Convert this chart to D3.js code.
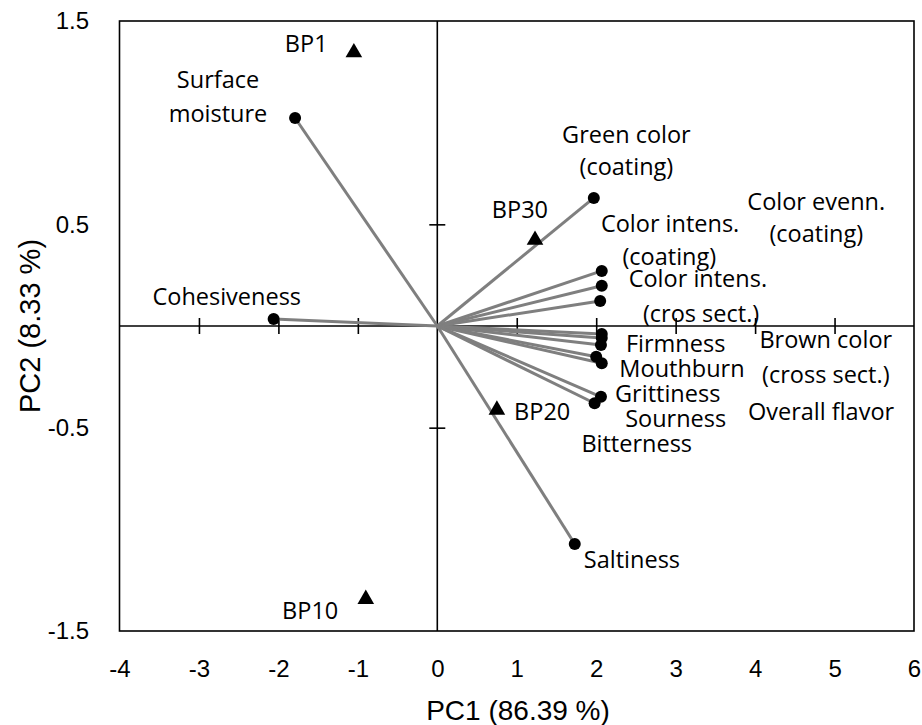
<!DOCTYPE html>
<html>
<head>
<meta charset="utf-8">
<script src="https://cdn.jsdelivr.net/npm/d3@7"></script>
<style>
  html, body { margin: 0; padding: 0; background: #fff; }
  svg { display: block; }
</style>
</head>
<body>
<svg id="chart" width="922" height="725"></svg>
<script>
// ---- data ----
const variableNames = ["Surface moisture", "Cohesiveness", "Green color (coating)", "Color intens. (coating)",
  "Color evenn. (coating)", "Color intens. (cros sect.)", "Brown color (cross sect.)", "Firmness",
  "Overall flavor", "Mouthburn", "Sourness", "Grittiness", "Bitterness", "Saltiness"];
const variablePC1 = [-1.79, -2.06, 1.97, 2.07, 2.07, 2.05, 2.07, 2.07, 2.06, 2.00, 2.07, 2.06, 1.98, 1.73];
const variablePC2 = [1.023, 0.034, 0.630, 0.271, 0.198, 0.123, -0.039, -0.059, -0.093, -0.151, -0.183, -0.348, -0.380, -1.072];

const sampleNames = ["BP1", "BP30", "BP20", "BP10"];
const samplePC1 = [-1.05, 1.23, 0.75, -0.90];
const samplePC2 = [1.345, 0.423, -0.413, -1.343];

const xTickValues = [-4, -3, -2, -1, 0, 1, 2, 3, 4, 5, 6];
const yTickValues = [1.5, 0.5, -0.5, -1.5];
const xTitle = "PC1 (86.39 %)";
const yTitle = "PC2 (8.33 %)";

// ---- label layout (data units, text centre / baseline) ----
const labelText = ["BP1", "Surface", "moisture", "BP10", "BP30", "BP20", "Green color", "(coating)",
  "Color evenn.", "(coating)", "Color intens.", "(coating)", "Color intens.", "(cros sect.)",
  "Firmness", "Brown color", "(cross sect.)", "Mouthburn", "Grittiness", "Sourness",
  "Overall flavor", "Bitterness", "Saltiness", "Cohesiveness"];
const labelX = [-1.65, -2.76, -2.76, -1.60, 1.04, 1.32, 2.38, 2.38, 4.77, 4.77, 2.93, 2.92, 3.28, 3.32,
  3.00, 4.89, 4.89, 3.08, 2.90, 3.00, 4.83, 2.51, 2.45, -2.65];
const labelY = [1.348, 1.171, 1.003, -1.441, 0.531, -0.462, 0.900, 0.743, 0.571, 0.413, 0.462, 0.300, 0.192, 0.020,
  -0.128, -0.108, -0.280, -0.251, -0.374, -0.497, -0.462, -0.620, -1.190, 0.103];

// ---- layout ----
const L = 119.5, R = 914, T = 21, B = 631;
const svg = d3.select("#chart");
const x = d3.scaleLinear().domain([-4, 6]).range([L, R]);
const y = d3.scaleLinear().domain([-1.5, 1.5]).range([B, T]);
const labelFont = "'Open Sans', sans-serif";
const axisFont = "'Liberation Sans', Arial, sans-serif";

// frame
svg.append("rect").attr("x", L).attr("y", T).attr("width", R - L).attr("height", B - T)
  .attr("fill", "none").attr("stroke", "#000").attr("stroke-width", 1.6);

// zero axis lines
svg.append("line").attr("x1", L).attr("x2", R).attr("y1", y(0)).attr("y2", y(0))
  .attr("stroke", "#000").attr("stroke-width", 1.6);
svg.append("line").attr("x1", x(0)).attr("x2", x(0)).attr("y1", T).attr("y2", B)
  .attr("stroke", "#000").attr("stroke-width", 1.6);

// crossing tick marks on the zero lines
const xTickAxis = svg.append("g").attr("transform", `translate(0,${y(0) - 8})`)
  .call(d3.axisBottom(x).tickValues([-3, -2, -1, 1, 2, 3, 4, 5]).tickSize(16).tickFormat(""));
xTickAxis.select(".domain").remove();
xTickAxis.selectAll(".tick line").attr("stroke", "#000").attr("stroke-width", 1.6);

const yTickAxis = svg.append("g").attr("transform", `translate(${x(0) - 8},0)`)
  .call(d3.axisRight(y).tickValues([0.5, -0.5]).tickSize(16).tickFormat(""));
yTickAxis.select(".domain").remove();
yTickAxis.selectAll(".tick line").attr("stroke", "#000").attr("stroke-width", 1.6);

// tick labels
const xLab = svg.append("g").attr("transform", `translate(0,${B})`)
  .call(d3.axisBottom(x).tickValues(xTickValues).tickSize(0).tickPadding(0).tickFormat(d => d3.format("")(d).replace("−", "-")));
xLab.select(".domain").remove();
xLab.selectAll("text").attr("font-family", axisFont).attr("font-size", 24).attr("fill", "#000")
  .attr("dy", null).attr("y", 46);

const yLab = svg.append("g").attr("transform", `translate(89,0)`)
  .call(d3.axisLeft(y).tickValues(yTickValues).tickSize(0).tickPadding(0).tickFormat(d => d3.format(".1f")(d).replace("−", "-")));
yLab.select(".domain").remove();
yLab.selectAll("text").attr("font-family", axisFont).attr("font-size", 24).attr("fill", "#000");

// axis titles
svg.append("text").attr("x", 518).attr("y", 720).attr("text-anchor", "middle")
  .attr("font-family", axisFont).attr("font-size", 28).attr("fill", "#000").text(xTitle);
svg.append("text").attr("transform", `translate(40,${(T + B) / 2}) rotate(-90)`).attr("text-anchor", "middle")
  .attr("font-family", axisFont).attr("font-size", 29).attr("fill", "#000").text(yTitle);

// vectors
const variables = variableNames.map((n, i) => ({ name: n, pc1: variablePC1[i], pc2: variablePC2[i] }));
svg.append("g").selectAll("line").data(variables).join("line")
  .attr("x1", x(0)).attr("y1", y(0))
  .attr("x2", d => x(d.pc1)).attr("y2", d => y(d.pc2))
  .attr("stroke", "#7f7f7f").attr("stroke-width", 3);
svg.append("g").selectAll("circle").data(variables).join("circle")
  .attr("cx", d => x(d.pc1)).attr("cy", d => y(d.pc2)).attr("r", 6).attr("fill", "#000");

// samples
const samples = sampleNames.map((n, i) => ({ name: n, pc1: samplePC1[i], pc2: samplePC2[i] }));
svg.append("g").selectAll("path").data(samples).join("path")
  .attr("d", d3.symbol().type(d3.symbolTriangle).size(120))
  .attr("transform", d => `translate(${x(d.pc1)},${y(d.pc2)})`)
  .attr("fill", "#000");

// labels
svg.append("g").selectAll("text").data(labelText.map((t, i) => ({ t, lx: labelX[i], ly: labelY[i] }))).join("text")
  .attr("x", d => x(d.lx)).attr("y", d => y(d.ly)).attr("text-anchor", "middle")
  .attr("font-family", labelFont).attr("font-size", 23.5).attr("fill", "#000")
  .text(d => d.t);
</script>
</body>
</html>
